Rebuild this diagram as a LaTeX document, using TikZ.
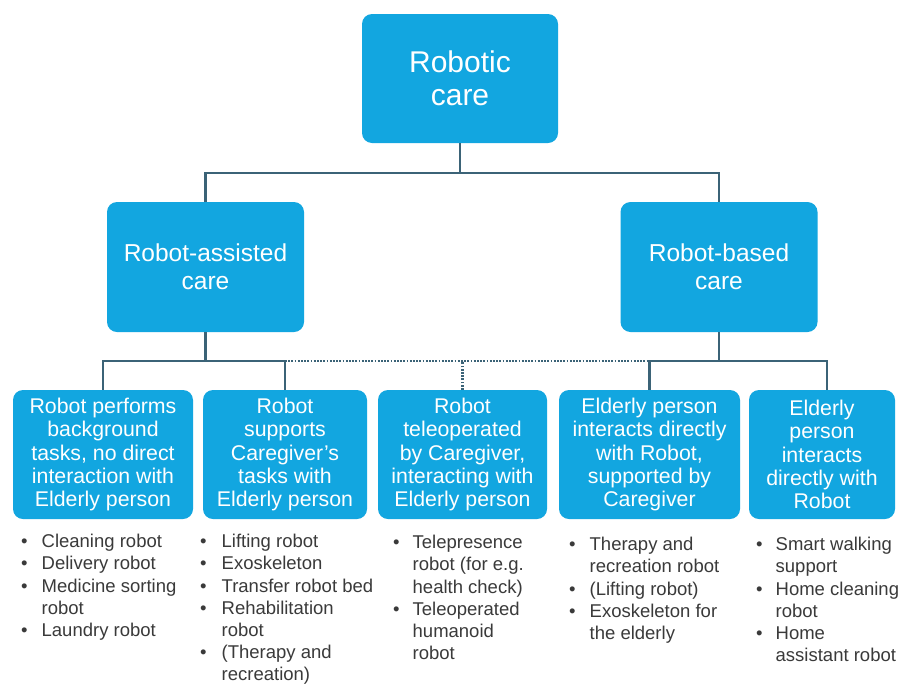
\documentclass[tikz,border=0pt]{standalone}
\usepackage{fontspec}
\setmainfont{Liberation Sans}
\definecolor{boxblue}{HTML}{12A6E0}
\definecolor{linec}{HTML}{3B6377}
\definecolor{txtc}{HTML}{3A3A3A}
\begin{document}
\begin{tikzpicture}[x=1pt,y=-1pt,
  box/.style={fill=boxblue, rounded corners=10pt, text=white, align=center, inner sep=0pt},
  topbox/.style={box, minimum width=196pt, minimum height=129pt, font=\fontsize{30}{33}\selectfont},
  midbox/.style={box, minimum width=197pt, minimum height=130pt, font=\fontsize{24.5}{28}\selectfont},
  lowbox/.style={box, minimum height=129pt, font=\fontsize{21.3}{23.2}\selectfont},
  conn/.style={draw=linec, line width=2.2pt},
  dconn/.style={draw=linec, line width=2.2pt, dash pattern=on 1.8pt off 1.4pt},
  blist/.style={anchor=north west, inner sep=0pt, text=txtc, font=\fontsize{18.5}{22.2}\selectfont}
]
\useasboundingbox (0,0) rectangle (904,686);
\fill[white] (0,0) rectangle (904,686);

\node[topbox] (top) at (460,78.5) {Robotic\\care};
\node[midbox] (ml) at (205.5,267) {Robot-assisted\\care};
\node[midbox] (mr) at (719,267) {Robot-based\\care};

\node[lowbox, minimum width=180pt] (b1) at (103,454.5) {Robot performs\\background\\tasks, no direct\\interaction with\\Elderly person};
\node[lowbox, minimum width=164pt] (b2) at (285,454.5) {Robot\\supports\\Caregiver's\\tasks with\\Elderly person};
\node[lowbox, minimum width=169pt] (b3) at (462.5,454.5) {Robot\\teleoperated\\by Caregiver,\\interacting with\\Elderly person};
\node[lowbox, minimum width=181pt] (b4) at (649.5,454.5) {Elderly person\\interacts directly\\with Robot,\\supported by\\Caregiver};
\node[lowbox, minimum width=146pt] (b5) at (822,454.5) {Elderly\\person\\interacts\\directly with\\Robot};

% connectors level 1
\coordinate (j0) at (460,173);
\draw[conn] (top.south) -- (j0);
\draw[conn] (ml.north) |- (j0) -| (mr.north);

% connectors level 2
\coordinate (jl) at (205.5,361);
\coordinate (jr) at (719,361);
\draw[conn] (ml.south) -- (jl);
\draw[conn] (b1.north) |- (jl) -| (b2.north);
\draw[conn] (mr.south) -- (jr);
\draw[conn] (b4.north) |- (jr) -| ([xshift=5pt]b5.north);
\draw[dconn] (b2.north |- jl) -- (b4.north |- jr);
\draw[dconn] (b3.north) -- (b3.north |- jl);

% bullet lists
\newcommand{\bl}{\textbullet}
\node[blist] (l1) at (21,532) {\begin{tabular}{@{}l@{\hspace{14pt}}l@{}}
\bl & Cleaning robot\\
\bl & Delivery robot\\
\bl & Medicine sorting\\
    & robot\\
\bl & Laundry robot
\end{tabular}};
\node[blist] (l2) at (200,532) {\begin{tabular}{@{}l@{\hspace{15pt}}l@{}}
\bl & Lifting robot\\
\bl & Exoskeleton\\
\bl & Transfer robot bed\\
\bl & Rehabilitation\\
    & robot\\
\bl & (Therapy and\\
    & recreation)
\end{tabular}};
\node[blist] (l3) at (393,533) {\begin{tabular}{@{}l@{\hspace{13pt}}l@{}}
\bl & Telepresence\\
    & robot (for e.g.\\
    & health check)\\
\bl & Teleoperated\\
    & humanoid\\
    & robot
\end{tabular}};
\node[blist] (l4) at (569,535) {\begin{tabular}{@{}l@{\hspace{14pt}}l@{}}
\bl & Therapy and\\
    & recreation robot\\
\bl & (Lifting robot)\\
\bl & Exoskeleton for\\
    & the elderly
\end{tabular}};
\node[blist] (l5) at (756,535) {\begin{tabular}{@{}l@{\hspace{13pt}}l@{}}
\bl & Smart walking\\
    & support\\
\bl & Home cleaning\\
    & robot\\
\bl & Home\\
    & assistant robot
\end{tabular}};
\end{tikzpicture}
\end{document}
